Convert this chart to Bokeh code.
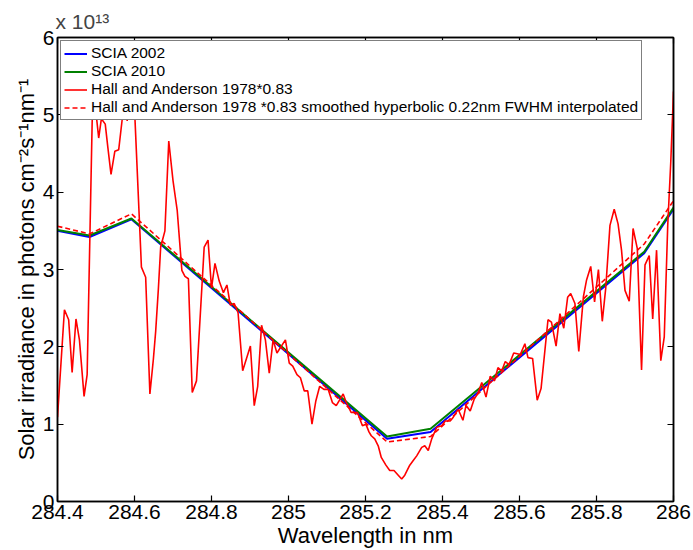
from bokeh.plotting import figure
from bokeh.models import (LinearAxis, FixedTicker, NumeralTickFormatter, Legend,
                          LegendItem, Range1d)
from bokeh.embed import file_html
from bokeh.resources import INLINE

# Hall and Anderson 1978 * 0.83 (high resolution), units of 1e13 photons cm^-2 s^-1 nm^-1
wl_ha = [
    284.400, 284.418, 284.429, 284.438, 284.448, 284.457, 284.469, 284.477,
    284.492, 284.507, 284.514, 284.524, 284.531, 284.539, 284.549, 284.559,
    284.568, 284.577, 284.581, 284.590, 284.599, 284.618, 284.629, 284.640,
    284.649, 284.655, 284.662, 284.668, 284.679, 284.689, 284.700, 284.711,
    284.723, 284.731, 284.740, 284.750, 284.761, 284.781, 284.791, 284.800,
    284.809, 284.820, 284.831, 284.840, 284.849, 284.859, 284.869, 284.881,
    284.901, 284.911, 284.920, 284.930, 284.940, 284.950, 284.960, 284.970,
    284.992, 285.002, 285.011, 285.022, 285.031, 285.041, 285.050, 285.061,
    285.071, 285.081, 285.092, 285.103, 285.114, 285.124, 285.142, 285.150,
    285.163, 285.179, 285.192, 285.201, 285.209, 285.215, 285.224, 285.233,
    285.241, 285.253, 285.263, 285.274, 285.285, 285.294, 285.302, 285.315,
    285.324, 285.333, 285.346, 285.354, 285.363, 285.372, 285.385, 285.398,
    285.407, 285.420, 285.428, 285.435, 285.441, 285.453, 285.461, 285.472,
    285.482, 285.492, 285.502, 285.513, 285.524, 285.535, 285.544, 285.554,
    285.563, 285.573, 285.585, 285.594, 285.602, 285.614, 285.622, 285.634,
    285.646, 285.656, 285.674, 285.683, 285.695, 285.705, 285.715, 285.725,
    285.733, 285.744, 285.754, 285.766, 285.774, 285.785, 285.795, 285.805,
    285.815, 285.824, 285.835, 285.846, 285.856, 285.865, 285.874, 285.885,
    285.895, 285.906, 285.917, 285.926, 285.937, 285.946, 285.956, 285.967,
    285.976, 285.985, 285.993, 286.000]
irr_ha = [
    1.09, 2.48, 2.35, 1.67, 2.36, 2.09, 1.36, 1.64,
    5.40, 4.70, 4.95, 4.88, 4.57, 4.23, 4.53, 4.55,
    4.94, 5.20, 4.92, 5.50, 5.20, 3.03, 2.90, 1.39,
    1.84, 2.20, 2.75, 3.29, 3.50, 4.66, 4.15, 3.76,
    2.99, 2.91, 2.88, 1.41, 1.56, 3.29, 3.38, 2.76,
    3.08, 2.85, 2.70, 2.80, 2.54, 2.56, 2.44, 1.69,
    2.01, 1.24, 1.49, 2.28, 2.09, 1.66, 2.09, 1.92,
    2.09, 1.79, 1.75, 1.64, 1.60, 1.43, 1.43, 1.00,
    1.30, 1.49, 1.45, 1.45, 1.28, 1.24, 1.39, 1.28,
    1.15, 1.15, 0.98, 1.00, 0.90, 0.85, 0.81, 0.72,
    0.57, 0.47, 0.40, 0.40, 0.34, 0.29, 0.34, 0.47,
    0.53, 0.59, 0.70, 0.72, 0.66, 0.81, 0.96, 0.98,
    1.04, 1.04, 1.09, 1.15, 1.19, 1.05, 1.24, 1.17,
    1.32, 1.40, 1.54, 1.35, 1.62, 1.56, 1.73, 1.69,
    1.81, 1.77, 1.92, 1.91, 1.90, 2.04, 1.86, 1.85,
    1.31, 1.46, 2.35, 2.32, 2.01, 2.43, 2.24, 2.64,
    2.69, 2.56, 1.94, 2.65, 2.86, 3.04, 2.58, 3.00,
    2.33, 2.76, 3.57, 3.78, 3.59, 3.25, 2.73, 2.59,
    3.53, 3.27, 1.70, 3.06, 3.18, 2.36, 3.25, 1.82,
    2.13, 3.57, 4.40, 5.30]

# SCIAMACHY grid and spectra
wl_scia = [284.400, 284.483, 284.592, 285.256, 285.369, 285.924, 286.000]
irr_scia_2002 = [3.50, 3.42, 3.65, 0.81, 0.90, 3.21, 3.78]
irr_scia_2010 = [3.51, 3.44, 3.66, 0.84, 0.94, 3.23, 3.80]
irr_ha_smooth = [3.56, 3.46, 3.72, 0.77, 0.84, 3.33, 3.89]

x_ticks = [284.4, 284.6, 284.8, 285.0, 285.2, 285.4, 285.6, 285.8, 286.0]
y_ticks = [0, 1, 2, 3, 4, 5, 6]

FONT = "Liberation Sans"
TICK_SIZE = "21px"
LABEL_SIZE = "22px"

p = figure(width=693, height=550, output_backend="svg", toolbar_location=None,
           x_range=Range1d(284.4, 286.0), y_range=Range1d(0, 6),
           min_border_left=57, min_border_right=20, min_border_top=37,
           min_border_bottom=47, title="x 10\u00b9\u00b3")
p.title.text_font = FONT
p.title.text_font_size = "21px"
p.title.text_font_style = "normal"
p.title.align = "left"
p.title.offset = -2
p.title.standoff = 10

p.xgrid.visible = False
p.ygrid.visible = False
p.outline_line_color = "black"
p.outline_line_width = 1.5
p.background_fill_color = "white"

for ax in p.xaxis:
    ax.ticker = FixedTicker(ticks=x_ticks)
    ax.formatter = NumeralTickFormatter(format="0.[0]")
    ax.axis_label = "Wavelength in nm"
for ax in p.yaxis:
    ax.ticker = FixedTicker(ticks=y_ticks)
    ax.axis_label = "Solar irradiance in photons cm\u207b\u00b2s\u207b\u00b9nm\u207b\u00b9"

for ax in p.xaxis + p.yaxis:
    ax.major_tick_in = 6
    ax.major_tick_out = 0
    ax.minor_tick_in = 0
    ax.minor_tick_out = 0
    ax.axis_line_width = 1.5
    ax.major_tick_line_width = 1.2
    ax.major_label_text_font = FONT
    ax.major_label_text_font_size = TICK_SIZE
    ax.major_label_text_color = "black"
    ax.major_label_text_line_height = 0.9
    ax.major_label_standoff = 3
    ax.axis_label_text_font = FONT
    ax.axis_label_text_font_size = LABEL_SIZE
    ax.axis_label_text_font_style = "normal"
    ax.axis_label_text_color = "black"
    ax.axis_label_text_line_height = 0.9
    ax.axis_label_standoff = 1

# Box ticks on top and right (no labels drawn)
top = LinearAxis(ticker=FixedTicker(ticks=x_ticks), major_label_text_color=None,
                 major_label_text_font_size="1px",
                 major_label_standoff=0, major_tick_in=6, major_tick_out=0,
                 minor_tick_in=0, minor_tick_out=0, axis_line_width=1.5,
                 major_tick_line_width=1.2)
right = LinearAxis(ticker=FixedTicker(ticks=y_ticks), major_label_text_color=None,
                   major_label_text_font_size="1px",
                   major_label_standoff=0, major_tick_in=6, major_tick_out=0,
                   minor_tick_in=0, minor_tick_out=0, axis_line_width=1.5,
                   major_tick_line_width=1.2)
p.add_layout(top, "above")
p.add_layout(right, "right")

r1 = p.line(wl_scia, irr_scia_2002, line_color="#0000FF", line_width=2)
r2 = p.line(wl_scia, irr_scia_2010, line_color="#008000", line_width=2)
r3 = p.line(wl_ha, irr_ha, line_color="#FF0000", line_width=1.6)
r4 = p.line(wl_scia, irr_ha_smooth, line_color="#FF0000", line_width=1.6,
            line_dash="5 3")

legend = Legend(items=[
    LegendItem(label="SCIA 2002", renderers=[r1]),
    LegendItem(label="SCIA 2010", renderers=[r2]),
    LegendItem(label="Hall and Anderson 1978*0.83", renderers=[r3]),
    LegendItem(label="Hall and Anderson 1978 *0.83 smoothed hyperbolic 0.22nm FWHM interpolated",
               renderers=[r4]),
], location="top_left")
legend.label_text_font = FONT
legend.label_text_font_size = "15.5px"
legend.label_text_color = "black"
legend.label_text_line_height = 1.0
legend.glyph_width = 23
legend.glyph_height = 15
legend.label_height = 15
legend.label_standoff = 4
legend.spacing = 0
legend.padding = 3
legend.margin = 3
legend.border_line_color = "black"
legend.border_line_width = 1.5
legend.background_fill_color = "white"
legend.background_fill_alpha = 1.0
p.add_layout(legend)

open("out.html", "w").write(file_html(p, INLINE))
